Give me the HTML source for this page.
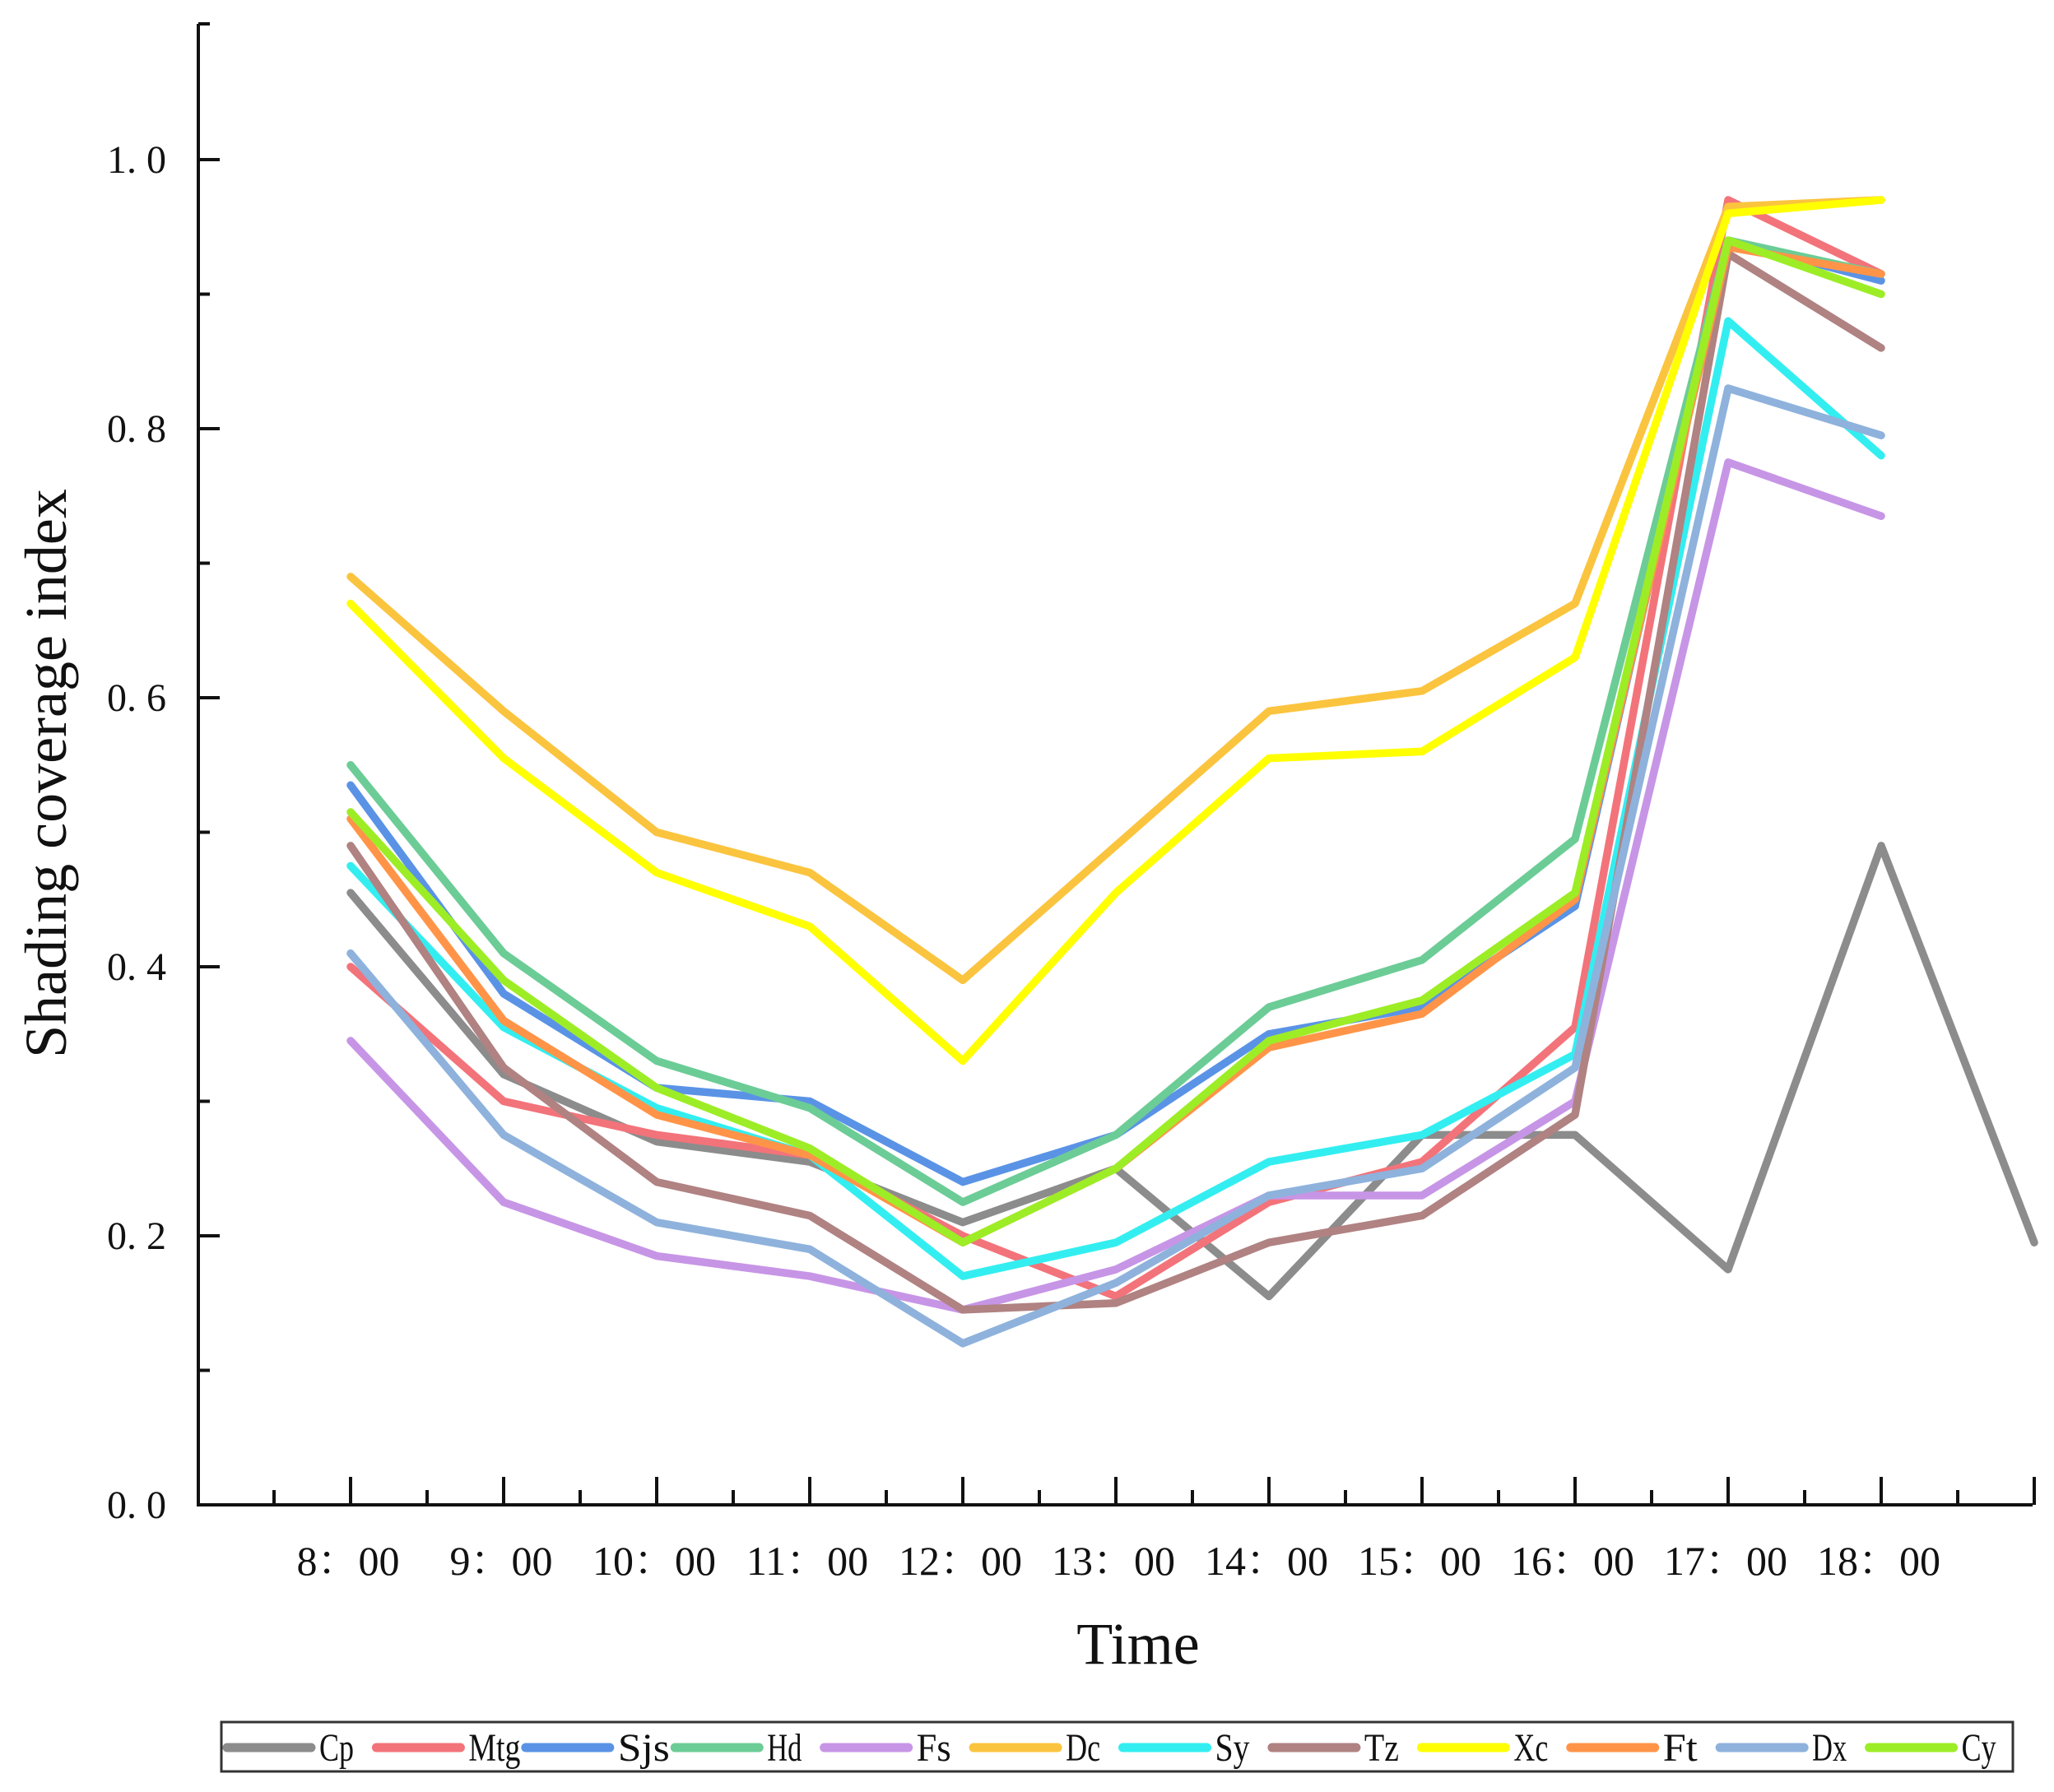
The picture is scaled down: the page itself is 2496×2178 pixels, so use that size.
<!DOCTYPE html>
<html><head><meta charset="utf-8"><style>
html,body{margin:0;padding:0;background:#fff;}
svg{display:block;}
text{font-family:"Liberation Serif","Noto Serif CJK SC",serif;fill:#111;}
</style></head><body>
<svg id="chart" width="2496" height="2178" viewBox="0 0 2496 2178" xmlns="http://www.w3.org/2000/svg">
<g id="lines"></g>
<g id="axes"></g>
<g id="legend"></g>
</svg>
<script>
const categories = ["8：00","9：00","10：00","11：00","12：00","13：00","14：00","15：00","16：00","17：00","18：00"];
const yTicks = [0,0.2,0.4,0.6,0.8,1.0];
const yTickLabels = ["0. 0","0. 2","0. 4","0. 6","0. 8","1. 0"];
const seriesNames = ["Cp","Mtg","Sjs","Hd","Fs","Dc","Sy","Tz","Xc","Ft","Dx","Cy"];
const seriesColors = ["#8c8c8c","#f3737a","#5a93e6","#6ccc96","#c795e6","#fbc43e","#33eef0","#b08282","#ffff00","#ff9448","#8eb2dc","#9ded26"];
const Cp  = [0.455,0.32,0.27,0.255,0.21,0.25,0.155,0.275,0.275,0.175,0.49,0.195];
const Mtg = [0.40,0.30,0.275,0.26,0.20,0.155,0.225,0.255,0.355,0.97,0.915];
const Sjs = [0.535,0.38,0.31,0.30,0.24,0.275,0.35,0.37,0.445,0.94,0.91];
const Hd  = [0.55,0.41,0.33,0.295,0.225,0.275,0.37,0.405,0.495,0.94,0.915];
const Fs  = [0.345,0.225,0.185,0.17,0.145,0.175,0.23,0.23,0.30,0.775,0.735];
const Dc  = [0.69,0.59,0.50,0.47,0.39,0.49,0.59,0.605,0.67,0.965,0.97];
const Sy  = [0.475,0.355,0.295,0.26,0.17,0.195,0.255,0.275,0.335,0.88,0.78];
const Tz  = [0.49,0.325,0.24,0.215,0.145,0.15,0.195,0.215,0.29,0.93,0.86];
const Xc  = [0.67,0.555,0.47,0.43,0.33,0.455,0.555,0.56,0.63,0.96,0.97];
const Ft  = [0.51,0.36,0.29,0.26,0.195,0.25,0.34,0.365,0.45,0.935,0.915];
const Dx  = [0.41,0.275,0.21,0.19,0.12,0.165,0.23,0.25,0.325,0.83,0.795];
const Cy  = [0.515,0.39,0.31,0.265,0.195,0.25,0.345,0.375,0.455,0.94,0.90];
const seriesValues = [Cp,Mtg,Sjs,Hd,Fs,Dc,Sy,Tz,Xc,Ft,Dx,Cy];

const NS="http://www.w3.org/2000/svg";
const X0=241, Y0=1829, Ytop=29, Xend=2470;
const xStart=426, xStep=186;
function xs(i){return xStart+i*xStep;}
function ys(v){return Y0-v*1635;}
function mk(tag,attrs,parent){const e=document.createElementNS(NS,tag);for(const k in attrs)e.setAttribute(k,attrs[k]);parent.appendChild(e);return e;}

const gl=document.getElementById('lines');
seriesValues.forEach((vals,si)=>{
  const pts=vals.map((v,i)=>xs(i)+","+ys(v)).join(" ");
  const pl=mk('polyline',{points:pts,fill:"none",stroke:seriesColors[si],"stroke-width":9.5,"stroke-linejoin":"round","stroke-linecap":"round"},gl);
  
  
});

const ga=document.getElementById('axes');
let a=mk('line',{x1:X0,y1:Ytop,x2:X0,y2:Y0+2,stroke:"#111","stroke-width":4},ga);


a=mk('line',{x1:X0-2,y1:Y0,x2:Xend,y2:Y0,stroke:"#111","stroke-width":4},ga);


mk('line',{x1:X0,y1:Ytop,x2:X0+14,y2:Ytop,stroke:"#111","stroke-width":4},ga);
for(let k=0;k<=10;k++){
  const v=k*0.1, major=(k%2===0);
  mk('line',{x1:X0,y1:ys(v),x2:X0+(major?26:14),y2:ys(v),stroke:"#111","stroke-width":4},ga);
}
yTicks.forEach((v,i)=>{
  const t=mk('text',{x:202,y:ys(v)+16,"text-anchor":"end","font-size":48},ga);
  t.textContent=yTickLabels[i];
  
  
});
for(let k=-1;k<=22;k++){
  const x=xStart+k*xStep/2; if(x<X0+5||x>Xend+2)continue;
  const major=(k%2===0);
  mk('line',{x1:x,y1:Y0,x2:x,y2:Y0-(major?34:18),stroke:"#111","stroke-width":4},ga);
}
categories.forEach((c,i)=>{
  const t=mk('text',{x:xs(i)-3,y:1914,"text-anchor":"middle","font-size":50},ga);
  t.textContent=c;
  
  
});
let t=mk('text',{x:1383,y:2022,"text-anchor":"middle","font-size":72},ga);
t.textContent="Time";


t=mk('text',{x:0,y:0,"text-anchor":"middle","font-size":72,transform:"translate(80,940) rotate(-90)"},ga);
t.textContent="Shading coverage index";



const lg=document.getElementById('legend');
let box=mk('rect',{x:269,y:2093,width:2177,height:60,fill:"#fff",stroke:"#333","stroke-width":3},lg);


const step=2177/12;
seriesNames.forEach((n,i)=>{
  const x=276+i*step;
  const g=mk('g',{},lg);
  
  
  mk('line',{x1:x,y1:2124,x2:x+102,y2:2124,stroke:seriesColors[i],"stroke-width":11,"stroke-linecap":"round"},g);
  const tt=mk('text',{x:x+112,y:2140,"font-size":48,textLength:n.length*21,lengthAdjust:"spacingAndGlyphs"},g);
  tt.textContent=n;
});
</script>
</body></html>
